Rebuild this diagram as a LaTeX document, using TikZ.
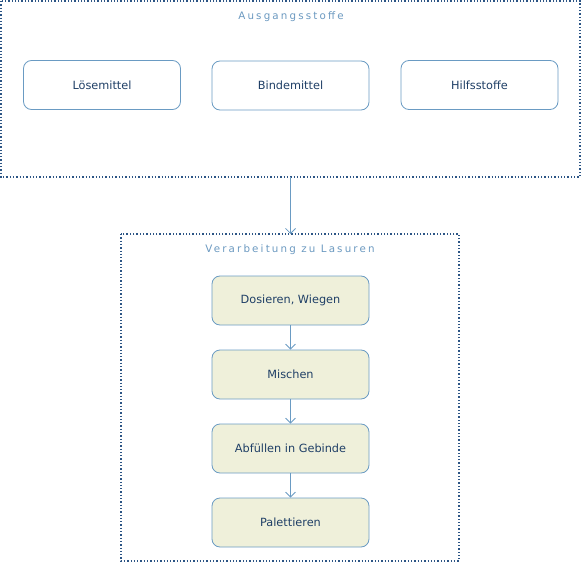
\documentclass[tikz,border=0pt]{standalone}
\usepackage{fontspec}
\setmainfont{DejaVu Sans}
\newfontfamily\spaced[LetterSpace=21]{DejaVu Sans}
\usetikzlibrary{arrows.meta}
\definecolor{frame}{HTML}{2C5585}
\definecolor{edge}{HTML}{6A9BC3}
\definecolor{txt}{HTML}{1F3F66}
\definecolor{ttl}{HTML}{6B99C0}
\definecolor{pfill}{HTML}{EFF0DA}
\begin{document}
\begin{tikzpicture}[x=1pt,y=-1pt,
  group/.style={draw=frame,line width=1.3pt,dotted},
  item/.style={draw=edge,line width=0.8pt,rounded corners=8pt,fill=white,minimum width=157pt,minimum height=49pt,text=txt,font=\fontsize{11.3}{13}\selectfont,inner sep=0pt},
  proc/.style={item,fill=pfill},
  title/.style={text=ttl,font=\spaced\fontsize{10.3}{12}\selectfont,inner sep=0pt},
  flow/.style={draw=edge,line width=0.8pt,-{Straight Barb[length=5pt,width=10pt]}}]
\useasboundingbox (0,0) rectangle (582,562);
\draw[group] (1,1) rectangle (580,177);
\coordinate (g1s) at (290.5,177);
\node[title] (t1) at (291,17) {Ausgangsstoffe};
\node[item] (loes) at (102,85) {Lösemittel};
\node[item] (bind) at (290.5,85.5) {Bindemittel};
\node[item] (hilf) at (479.5,85) {Hilfsstoffe};
\draw[group] (121,234) rectangle (459,561);
\coordinate (g2n) at (290.5,234);
\node[title] (t2) at (290,250) {Verarbeitung zu Lasuren};
\node[proc] (dos) at (290.5,300.5) {Dosieren, Wiegen};
\node[proc] (mis) at (290.5,374.5) {Mischen};
\node[proc] (abf) at (290.5,448.5) {Abfüllen in Gebinde};
\node[proc] (pal) at (290.5,522.5) {Palettieren};
\draw[flow] (g1s) -- (g2n);
\draw[flow] (dos) -- (mis);
\draw[flow] (mis) -- (abf);
\draw[flow] (abf) -- (pal);
\end{tikzpicture}
\end{document}
